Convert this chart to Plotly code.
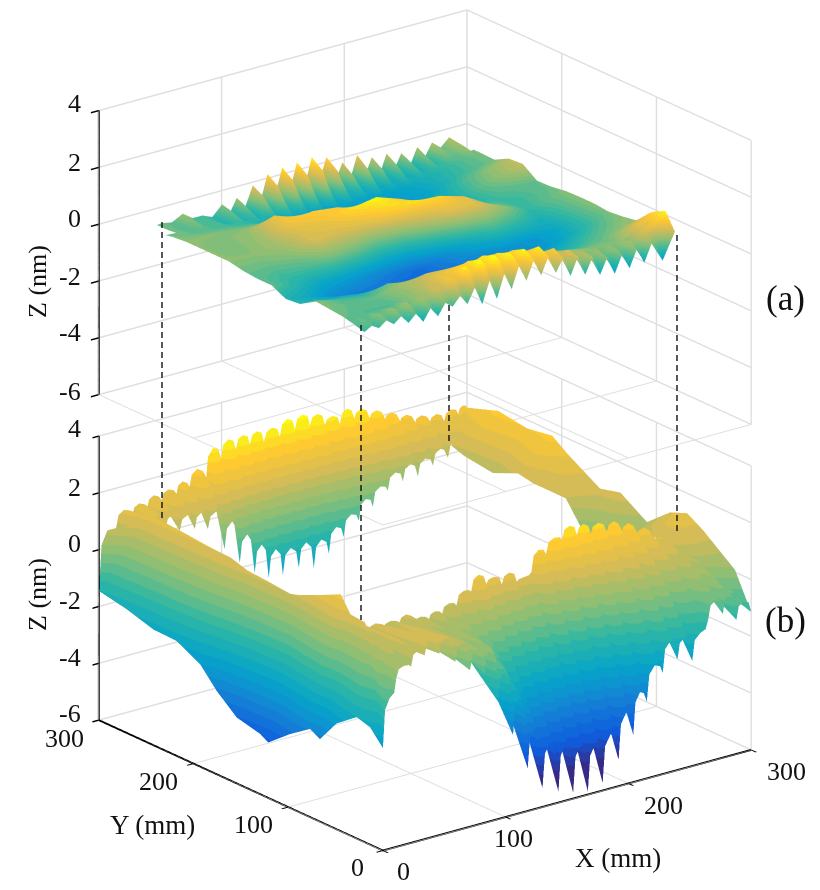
import plotly.graph_objects as go

W, H = 812, 882   # the page keeps an 8 px body margin, so this fills the 820x890 window
MARGIN = 8
FONT = "Liberation Serif"

# tick labels
xy_ticks = [0, 100, 200, 300]
z_ticks = [-6, -4, -2, 0, 2, 4]
z_text = ["-6", "-4", "-2", "0", "2", "4"]

parula = ["#352a87", "#0f5cdd", "#1481d6", "#06a4ca", "#2eb7a4",
          "#87bf77", "#d1bb59", "#fec832", "#f9fb0e"]

# ---- panel (b), the frame round the measured area, values in nm ----
# front right side: tip of each scallop and the arch after it
fr_x = [0, 11, 23, 34, 46, 59, 71, 83, 94, 106, 118, 130, 143, 155, 167, 179,
        192, 204, 215, 228, 240, 252, 265, 277, 288, 300]
fr_outer_tip = [-2.4, -0.04, 0.2, 0.47, 0.39, -0.05, -0.49, -0.74, -1.88, -3.19, -4.5, -5.34, -5.62,
                -5.8, -5.9, -5.74, -5.08, -4.34, -3.3, -2.44, -2.1, -2.3, -1.0, -0.94, -1.28, -1.13]
fr_outer_arch = [-0.7, 0.3, 0.7, 1.0, 0.9, 0.6, 0.2, 0.1, -0.8, -1.9, -3.1, -3.8, -4.0,
                 -4.2, -4.3, -4.1, -3.5, -2.9, -2.1, -1.4, -1.4, -1.4, -0.4, -0.3, -0.7]
fr_mid_tip = [-0.5, 0.3, 0.45, 0.5, 0.4, 0.2, -0.1, -0.3, -0.8, -1.3, -1.9, -2.2, -2.3,
              -2.35, -2.35, -2.3, -1.9, -1.4, -0.8, -0.4, -0.4, -0.5, 0.0, 0.0, -0.3, -0.3]
fr_mid_arch = [0.2, 0.6, 0.85, 0.95, 0.85, 0.65, 0.45, 0.3, 0.0, -0.4, -0.7, -1.0, -1.1,
               -1.1, -0.8, -0.6, -0.3, 0.1, 0.4, 0.6, 0.7, 0.6, 0.6, 0.5, 0.1]
fr_inner_tip = [1.0, 0.75, 0.6, 0.55, 0.5, 0.5, 0.4, 0.35, 0.45, 0.65, 1.0, 1.1, 0.95,
                0.9, 1.1, 1.6, 1.95, 1.95, 1.8, 1.7, 1.5, 1.25, 0.9, 0.75, 0.7, 0.8]
fr_inner_arch = [1.0, 0.9, 0.85, 0.8, 0.74, 0.82, 0.6, 0.65, 0.8, 1.1, 1.52, 1.3, 1.3,
                 1.0, 1.82, 2.1, 2.37, 2.3, 2.2, 2.1, 1.9, 1.6, 1.13, 0.85, 0.8]

# back left side
bl_x = [0, 14, 27, 39, 50.5, 62.8, 73.4, 87, 99.4, 111.6, 123, 134.5, 147.5, 159.7, 172, 184,
        196.4, 207.8, 220, 232.3, 244.5, 256.8, 269, 281, 293, 300]
bl_inner_tip = [1.2, 1.0, 0.8, 0.6, 0.37, 0.29, 0.16, -0.7, -1.33, -1.83, -2.14, -2.17, -2.07,
                -2.22, -1.87, -1.41, -0.99, -0.63, -0.21, -0.03, 0.0, 0.23, 0.37, 0.75, 0.75, 0.76]
bl_inner_arch = [1.3, 1.2, 1.1, 1.0, 0.85, 0.8, 0.7, 0.2, -0.4, -0.9, -1.2, -1.3, -1.25,
                 -1.3, -1.0, -0.7, -0.3, 0.0, 0.35, 0.5, 0.55, 0.75, 0.85, 0.8, 0.8]
bl_mid_tip = [0.0, 0.8, 0.85, 0.8, 0.75, 0.8, 0.85, 0.7, 0.9, 0.9, 0.85, 0.8, 0.85,
              0.9, 1.0, 1.05, 1.15, 1.25, 1.3, 1.25, 1.05, 0.95, 0.9, 1.0, 1.05, 1.2]
bl_mid_arch = [0.8, 1.2, 1.2, 1.2, 1.25, 1.3, 1.45, 1.5, 1.65, 1.55, 1.45, 1.45, 1.6,
               1.6, 1.65, 1.6, 1.7, 1.75, 1.7, 1.55, 1.4, 1.35, 1.3, 1.3, 1.3]
bl_outer_tip = [-1.45, 0.6, 0.85, 0.9, 1.0, 1.1, 1.2, 1.3, 2.0, 2.2, 2.25, 2.2, 2.25,
                2.35, 2.35, 2.2, 2.1, 2.1, 1.95, 1.75, 1.5, 1.3, 1.2, 1.15, 1.3, 1.46]
bl_outer_arch = [0.6, 1.16, 1.24, 1.39, 1.46, 1.6, 1.9, 2.49, 2.64, 2.65, 2.65, 2.63, 2.79,
                 2.8, 2.68, 2.46, 2.58, 2.44, 2.24, 2.02, 1.8, 1.63, 1.53, 1.55, 1.57]

# front left side, no scallops
fl_y = [300, 270.6, 242.5, 218, 193, 175.6, 154.5, 130, 121, 98, 77, 66.5, 49, 27.8, 13.7, 0]
fl_outer = [-1.45, -1.65, -1.93, -1.96, -2.4, -3.07, -3.68, -3.88, -4.05, -3.4, -2.9, -3.1, -2.28, -1.73, -1.87, -2.4]
fl_mid = [0.0, -0.1, -0.2, -0.3, -0.6, -0.9, -1.2, -1.4, -1.5, -0.9, -0.5, -0.7, -0.5, -0.3, -0.4, -0.5]
fl_inner = [1.2, 1.25, 1.18, 1.1, 1.06, 0.88, 0.83, 0.75, 0.85, 1.2, 1.55, 1.0, 0.95, 0.95, 1.0, 1.0]

# back right side, no scallops
br_y = [300, 267, 236.5, 210, 194, 159.5, 138, 110, 85.5, 67.6, 50.7, 17, 0]
br_outer = [1.46, 1.85, 1.7, 1.85, 1.46, 0.76, 0.95, 0.34, 1.06, 1.3, 0.96, 0.08, -1.15]
br_mid = [1.2, 1.35, 1.2, 1.45, 1.2, 0.85, 0.5, 0.1, 0.8, 1.2, 1.0, 0.5, -0.2]
br_inner = [0.75, 0.6, 0.46, 0.85, 0.75, 0.75, -0.3, -0.4, 0.3, 0.8, 0.85, 0.8, 0.8]

# ---- panel (a), the measured area ----
a_body_x = [25, 45, 65, 85, 105, 125, 145, 165, 185, 205, 225, 245, 276]
a_body_y = [262, 255, 240, 225, 210, 195, 180, 165, 150, 135, 120, 105, 90, 75, 68]
a_body_z = [
    [-0.1, -0.15, -0.25, -0.35, -0.4, -0.45, -0.5, -0.5, -0.5, -0.5, -0.45, -0.3, -0.05],
    [-0.05, -0.15, -0.2, -0.3, -0.45, -0.55, -0.6, -0.6, -0.6, -0.6, -0.5, -0.35, -0.05],
    [0.0, 0.0, -0.05, -0.1, -0.3, -0.6, -0.8, -0.85, -0.8, -0.7, -0.55, -0.3, -0.07],
    [0.0, -0.05, 0.05, 0.45, 0.15, -0.3, -0.7, -0.85, -0.85, -0.7, -0.45, -0.15, 0.2],
    [0.0, -0.05, 0.1, 0.5, 0.6, 0.5, 0.05, -0.5, -0.8, -0.7, -0.4, -0.1, 0.24],
    [0.0, 0.0, 0.1, 0.35, 0.45, 0.7, 0.85, 0.55, 0.1, -0.4, -0.4, -0.2, -0.12],
    [-0.1, -0.1, 0.0, 0.35, 0.3, 0.35, 0.6, 0.7, 0.65, 0.4, -0.1, -0.3, -0.1],
    [-0.15, -0.25, -0.2, -0.05, -0.1, -0.3, -0.25, 0.05, 0.35, 0.35, 0.05, -0.3, -0.02],
    [-0.15, -0.35, -0.55, -0.65, -0.8, -0.95, -1.05, -0.85, -0.5, -0.2, -0.3, -0.45, 0.0],
    [-0.4, -0.55, -0.8, -0.95, -1.0, -1.1, -1.05, -0.95, -0.85, -0.75, -0.7, -0.55, 0.0],
    [-0.35, -0.45, -0.5, -0.65, -0.8, -0.95, -1.0, -0.95, -0.9, -0.8, -0.7, -0.5, -0.05],
    [0.0, -0.2, -0.3, -0.1, -0.3, -0.6, -0.75, -0.75, -0.7, -0.6, -0.5, -0.3, 0.0],
    [-0.05, -0.15, -0.1, 0.1, 0.25, 0.2, 0.1, -0.1, -0.25, -0.3, -0.3, -0.15, 0.09],
    [-0.1, -0.2, -0.2, 0.1, 0.45, 0.6, 0.65, 0.55, 0.3, 0.1, -0.05, -0.05, 0.6],
    [-0.15, -0.15, -0.1, 0.1, 0.4, 0.7, 0.75, 0.65, 0.4, 0.15, 0.0, 0.0, 0.7],
]

# back edge of (a), scallops at y = 280 fading out by y = 255
a_back_x = [32, 36, 44, 53, 61, 69, 77, 85, 91, 97, 103, 110, 116, 122, 128, 134, 140, 146, 152, 158,
            164, 170, 177, 183, 189, 195, 201, 207, 213, 219, 225, 231, 238, 244, 250, 256, 263, 270, 272]
a_back_y = [280, 268, 255]
a_back_z = [
    [-0.1, -0.08, -0.15, 0.05, -0.2, -0.2, -0.35, 0.0, -0.4, 0.09, -0.4, 0.37, -0.3, 0.63, -0.2, 0.72, -0.2, 0.76, -0.2, 0.8,
     -0.15, 0.66, -0.3, 0.32, -0.4, 0.44, -0.4, 0.22, -0.5, 0.2, -0.45, 0.08, -0.45, 0.14, -0.3, 0.16, -0.1, 0.18, 0.1],
    [-0.1, -0.1, -0.2, -0.05, -0.25, -0.2, -0.4, -0.1, -0.45, -0.1, -0.5, 0.15, -0.45, 0.35, -0.5, 0.42, -0.5, 0.45, -0.55, 0.5,
     -0.55, 0.35, -0.55, 0.02, -0.6, 0.1, -0.6, -0.05, -0.6, -0.05, -0.55, -0.12, -0.5, -0.08, -0.35, -0.05, -0.1, 0.1, 0.05],
    [-0.05, -0.08, -0.15, -0.15, -0.2, -0.2, -0.3, -0.3, -0.4, -0.4, -0.45, -0.45, -0.55, -0.5, -0.6, -0.55, -0.65, -0.55, -0.65, -0.55,
     -0.65, -0.55, -0.65, -0.55, -0.65, -0.55, -0.65, -0.55, -0.6, -0.5, -0.55, -0.45, -0.45, -0.4, -0.35, -0.25, -0.2, -0.08, -0.05],
]

# front edge of (a), scallops at y = 52
a_front_x = [25, 31, 37, 43, 49, 55, 61, 67, 73, 79, 85, 91, 97, 103, 109, 115, 121, 127, 133, 139, 145,
             151, 157, 163, 169, 175, 181, 187, 193, 199, 205, 211, 217, 223, 229, 235, 241, 247, 253, 259, 268, 278]
a_front_y = [75, 62, 52]
a_front_z = [
    [-0.1, -0.15, -0.2, -0.2, -0.2, -0.2, -0.2, -0.15, -0.1, 0.0, 0.1, 0.2, 0.3, 0.4, 0.45, 0.55, 0.55, 0.65, 0.6, 0.7, 0.6,
     0.65, 0.55, 0.6, 0.45, 0.45, 0.3, 0.25, 0.15, 0.1, 0.1, 0.0, -0.05, -0.05, -0.1, -0.05, -0.05, -0.05, 0.05, 0.2, 0.35, 0.6],
    [-0.2, -0.1, -0.15, 0.0, -0.1, 0.05, -0.1, 0.1, -0.1, 0.1, 0.05, 0.3, 0.25, 0.55, 0.4, 0.8, 0.55, 0.9, 0.6, 0.9, 0.6,
     0.85, 0.55, 0.85, 0.55, 0.8, 0.4, 0.6, 0.2, 0.4, 0.05, 0.2, -0.1, 0.1, -0.15, 0.05, -0.1, 0.1, 0.05, 0.3, 0.5, 0.83],
    [-0.3, -0.15, -0.3, -0.1, -0.3, -0.1, -0.4, -0.15, -0.5, -0.1, -0.45, -0.05, -0.25, 0.05, -0.3, 0.2, -0.45, 0.3, -0.4, 0.4, -0.2,
     0.55, -0.05, 0.6, 0.0, 0.6, -0.05, 0.4, -0.3, 0.3, -0.4, 0.15, -0.55, 0.0, -0.65, -0.05, -0.6, 0.0, -0.55, 0.05, -0.65, 0.25],
]

# dashed links, window pixels: x, y in (a), y in (b)
links = [(162, 222, 520), (361, 325, 620), (449, 305, 445), (677, 235, 535)]

# frame inner edge (mm)
X0, X1, Y0, Y1 = 25, 272, 52, 280
B_CMIN, B_CMAX = -5.2, 3
A_CMIN, A_CMAX = -1.5, 0.9


def stepped(n):
    """parula cut into n flat bands, the reference shows visible colour bands"""
    def at(t):
        p = t * (len(parula) - 1)
        i = min(int(p), len(parula) - 2)
        f = p - i
        a = [int(parula[i][k:k + 2], 16) for k in (1, 3, 5)]
        b = [int(parula[i + 1][k:k + 2], 16) for k in (1, 3, 5)]
        return "rgb(%d,%d,%d)" % tuple(round(u + (v - u) * f) for u, v in zip(a, b))
    out = []
    for i in range(n):
        c = at(i / (n - 1))
        out.append([i / n, c])
        out.append([(i + 1) / n, c])
    return out


def expand(xs, tip, arch):
    """a scallop is a narrow tip, a shoulder, the arch top and another shoulder"""
    sx, sz = [], []
    for i in range(len(xs) - 1):
        w = xs[i + 1] - xs[i]
        top = arch[i]
        a = tip[i] + (top - tip[i]) * 0.78
        b = tip[i + 1] + (top - tip[i + 1]) * 0.78
        sx += [xs[i], xs[i] + w * 0.16, xs[i] + w * 0.5, xs[i] + w * 0.84]
        sz += [tip[i], a, top, b]
    return sx + [xs[-1]], sz + [tip[-1]]


def clamp(v, lo, hi):
    return max(lo, min(hi, v))


def surf(x, y, z, cmin, cmax, scene, bands):
    return go.Surface(x=x, y=y, z=z, cmin=cmin, cmax=cmax, scene=scene, showscale=False,
                      colorscale=stepped(bands), hoverinfo="skip",
                      lighting=dict(ambient=1, diffuse=0, specular=0, roughness=1, fresnel=0))


fig = go.Figure()

# (b) frame, front right
sx, z_o = expand(fr_x, fr_outer_tip, fr_outer_arch)
_, z_m = expand(fr_x, fr_mid_tip, fr_mid_arch)
_, z_i = expand(fr_x, fr_inner_tip, fr_inner_arch)
x_i = [clamp(v - 6, X0, X1) for v in sx]
x_m = [(a + b) / 2 for a, b in zip(sx, x_i)]
fig.add_trace(surf([sx, x_m, x_i], [[0] * len(sx), [Y0 / 2] * len(sx), [Y0] * len(sx)],
                   [z_o, z_m, z_i], B_CMIN, B_CMAX, "scene2", 26))

# (b) frame, back left
sx, z_o = expand(bl_x, bl_outer_tip, bl_outer_arch)
_, z_m = expand(bl_x, bl_mid_tip, bl_mid_arch)
_, z_i = expand(bl_x, bl_inner_tip, bl_inner_arch)
x_i = [clamp(v, X0, X1) for v in sx]
x_m = [(a + b) / 2 for a, b in zip(sx, x_i)]
fig.add_trace(surf([sx, x_m, x_i], [[300] * len(sx), [(300 + Y1) / 2] * len(sx), [Y1] * len(sx)],
                   [z_o, z_m, z_i], B_CMIN, B_CMAX, "scene2", 26))

# (b) frame, front left
y_i = [clamp(v, Y0, Y1) for v in fl_y]
y_m = [(a + b) / 2 for a, b in zip(fl_y, y_i)]
fig.add_trace(surf([[0] * len(fl_y), [X0 / 2] * len(fl_y), [X0] * len(fl_y)], [fl_y, y_m, y_i],
                   [fl_outer, fl_mid, fl_inner], B_CMIN, B_CMAX, "scene2", 26))

# (b) frame, back right
y_i = [clamp(v, Y0, Y1) for v in br_y]
y_m = [(a + b) / 2 for a, b in zip(br_y, y_i)]
fig.add_trace(surf([[300] * len(br_y), [(300 + X1) / 2] * len(br_y), [X1] * len(br_y)], [br_y, y_m, y_i],
                   [br_outer, br_mid, br_inner], B_CMIN, B_CMAX, "scene2", 26))

# (a) measured area
fig.add_trace(surf(a_body_x, a_body_y, a_body_z, A_CMIN, A_CMAX, "scene", 40))
fig.add_trace(surf(a_back_x, a_back_y, a_back_z, A_CMIN, A_CMAX, "scene", 40))
fig.add_trace(surf(a_front_x, a_front_y, a_front_z, A_CMIN, A_CMAX, "scene", 40))

EYE = (-0.571, -0.740, 0.354)
TOP_H, BOTTOM_H = 519, 594
SCALE_B = 1.566
SCALE_A = SCALE_B * BOTTOM_H / TOP_H


def axis(vals, line=True):
    ax = dict(title=dict(text=""), tickmode="array", tickvals=vals,
              range=[vals[0], vals[-1]], showgrid=True, gridcolor="#dedede", gridwidth=3,
              showbackground=False, zeroline=False, showspikes=False,
              showticklabels=False,
              showline=line, linecolor="#000000", linewidth=4,
              ticks="outside" if line else "", ticklen=8, tickcolor="#000000", tickwidth=3)
    return ax


cam = dict(eye=dict(x=EYE[0] * 2, y=EYE[1] * 2, z=EYE[2] * 2),
           center=dict(x=0, y=0, z=0), up=dict(x=0, y=0, z=1),
           projection=dict(type="orthographic"))


def px_x(v):
    return (v - MARGIN) / W


def px_y(v):
    return 1 - (v - MARGIN) / H


def ydom(top, bottom):
    return [1 - bottom / H, 1 - top / H]


fig.update_layout(
    width=W, height=H, paper_bgcolor="white", showlegend=False,
    margin=dict(l=0, r=0, t=0, b=0),
    scene=dict(domain=dict(x=[22 / W, 1], y=ydom(0, TOP_H)),
               xaxis=axis(xy_ticks, line=False),
               yaxis=axis(xy_ticks, line=False),
               zaxis=axis(z_ticks),
               aspectmode="manual", aspectratio=dict(x=SCALE_A, y=SCALE_A, z=0.653 * SCALE_A),
               camera=cam),
    scene2=dict(domain=dict(x=[22 / W, 1], y=ydom(287.5, 287.5 + BOTTOM_H)),
                xaxis=axis(xy_ticks), yaxis=axis(xy_ticks), zaxis=axis(z_ticks),
                aspectmode="manual", aspectratio=dict(x=SCALE_B, y=SCALE_B, z=0.653 * SCALE_B),
                camera=cam),
)

for lx, y_a, y_b in links:
    fig.add_shape(type="line", xref="paper", yref="paper", x0=px_x(lx), x1=px_x(lx),
                  y0=px_y(y_a), y1=px_y(y_b), layer="above",
                  line=dict(color="#111111", width=1.4, dash="6px,4px"))

# page text: (text, x, y, size, angle, anchor)
labels = [("(a)", 785, 298, 35, 0, "center"), ("(b)", 785, 620, 35, 0, "center"),
          ("Z (nm)", 37, 282, 26, -90, "center"), ("Z (nm)", 37, 595, 26, -90, "center"),
          ("Y (mm)", 152, 825, 27, 0, "center"), ("X (mm)", 618, 858, 27, 0, "center")]
# z tick labels
for t, ya, yb in zip(z_text, [391, 333, 277, 218, 162, 103], [713, 657, 600, 543, 487, 428]):
    labels.append((t, 83, ya, 26, 0, "right"))
    labels.append((t, 83, yb, 26, 0, "right"))
# floor tick labels
for t, px, py in [("300", 64, 738), ("200", 158, 781), ("100", 253, 824), ("0", 357, 867)]:
    labels.append((t, px, py, 26, 0, "center"))
for t, px, py in [("0", 403, 871), ("100", 513, 838), ("200", 663, 805), ("300", 786, 771)]:
    labels.append((t, px, py, 26, 0, "center"))
for text, px, py, size, angle, anchor in labels:
    fig.add_annotation(text=text, x=px_x(px), y=px_y(py), xref="paper", yref="paper",
                       showarrow=False, textangle=angle, xanchor=anchor, yanchor="middle",
                       font=dict(family=FONT, size=size, color="#111111"))

fig.write_html("out.html")
